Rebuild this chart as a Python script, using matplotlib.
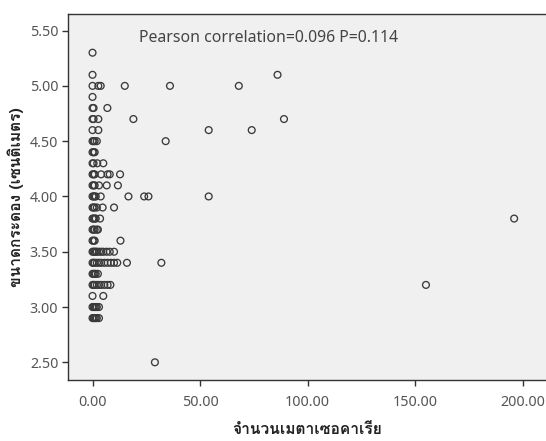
import matplotlib
matplotlib.use("Agg")
import matplotlib.pyplot as plt
from matplotlib import font_manager
from matplotlib.ft2font import FT2Font

# ---- data ----
rows = {
    5.3: [0],
    5.1: [0, 86],
    5.0: [0, 2.7, 3.8, 15, 36, 68],
    4.9: [0],
    4.8: [0, 0.5, 6.9],
    4.7: [0, 0.5, 2.7, 19, 89],
    4.6: [0, 2.7, 54, 74],
    4.5: [0, 0.5, 1, 2, 34],
    4.4: [0, 0.5, 1],
    4.3: [0, 0.5, 2.2, 5],
    4.2: [0, 0.5, 1, 4, 7, 8, 12.8],
    4.1: [0, 0.5, 1, 3, 6.6, 11.8],
    4.0: [0, 0.5, 1, 1.5, 3.8, 16.7, 24, 26, 54],
    3.9: [0, 0.5, 1, 2, 4.7, 10],
    3.8: [0, 0.5, 1, 1.5, 3.5, 196],
    3.7: [0, 0.5, 1, 2, 2.5],
    3.6: [0, 0.5, 1, 13],
    3.5: [0, 0.5, 1, 1.5, 2, 3, 4, 5, 6.5, 8, 10],
    3.4: [0, 0.5, 1, 2, 3, 4, 5.5, 7, 8.5, 10, 11.5, 16, 32],
    3.3: [0, 0.5, 1, 1.5, 2.5],
    3.2: [0, 0.5, 1, 2, 3, 4, 5.5, 7, 8.3, 155],
    3.1: [0, 5],
    3.0: [0, 0.5, 1, 1.5, 2, 3],
    2.9: [0, 0.5, 1, 1.5, 2, 3],
    2.5: [29],
}
metacercaria = [x for y, xs in rows.items() for x in xs]
carapace = [y for y, xs in rows.items() for x in xs]

x_ticks = [0, 50, 100, 150, 200]
y_ticks = [2.5, 3.0, 3.5, 4.0, 4.5, 5.0, 5.5]
x_label = "จำนวนเมตาเซอคาเรีย"
y_label = "ขนาดกระดอง (เซนติเมตร)"
annot = "Pearson correlation=0.096 P=0.114"

# ---- find a font with Thai glyphs ----
thai_font = None
for f in font_manager.fontManager.ttflist:
    try:
        cm = FT2Font(f.fname).get_charmap()
        if 0x0E08 in cm and 0x0E33 in cm:
            thai_font = f.name
            break
    except Exception:
        pass
label_family = [thai_font, "DejaVu Sans"] if thai_font else ["DejaVu Sans"]

plt.rcParams['font.family'] = ['Noto Sans', 'DejaVu Sans']

fig = plt.figure(figsize=(5.46, 4.41), dpi=100)
ax = fig.add_axes([68/546, 61/441, 478/546, 366/441])
ax.set_facecolor("#f0f0f0")

ax.scatter(metacercaria, carapace, s=24, facecolors="none",
           edgecolors="#3a3a3a", linewidths=0.95, zorder=3)

ax.set_xlim(-11.4, 210.8)
ax.set_ylim(2.34, 5.65)
ax.set_xticks(x_ticks)
ax.set_xticklabels([f"{v:.2f}" for v in x_ticks])
ax.set_yticks(y_ticks)
ax.set_yticklabels([f"{v:.2f}" for v in y_ticks])

for s in ["left", "bottom", "top"]:
    ax.spines[s].set_color("#333333")
    ax.spines[s].set_linewidth(1.0)
ax.spines["right"].set_visible(False)

ax.tick_params(axis="both", direction="out", length=4, width=1,
               color="#333333", labelsize=10.3, labelcolor="#555555")
ax.tick_params(axis="x", pad=7)
ax.tick_params(axis="y", pad=3)

ax.set_xlabel(x_label, family=label_family, fontsize=11.2, fontweight="bold",
              color="#222222", labelpad=9)
ax.set_ylabel(y_label, family=label_family, fontsize=11.2, fontweight="bold",
              color="#222222", labelpad=4)

ax.text(0.149, 0.955, annot, transform=ax.transAxes, fontsize=11.4,
        color="#444444", va="top", ha="left")

fig.savefig("out.png", dpi=100, facecolor="white")
